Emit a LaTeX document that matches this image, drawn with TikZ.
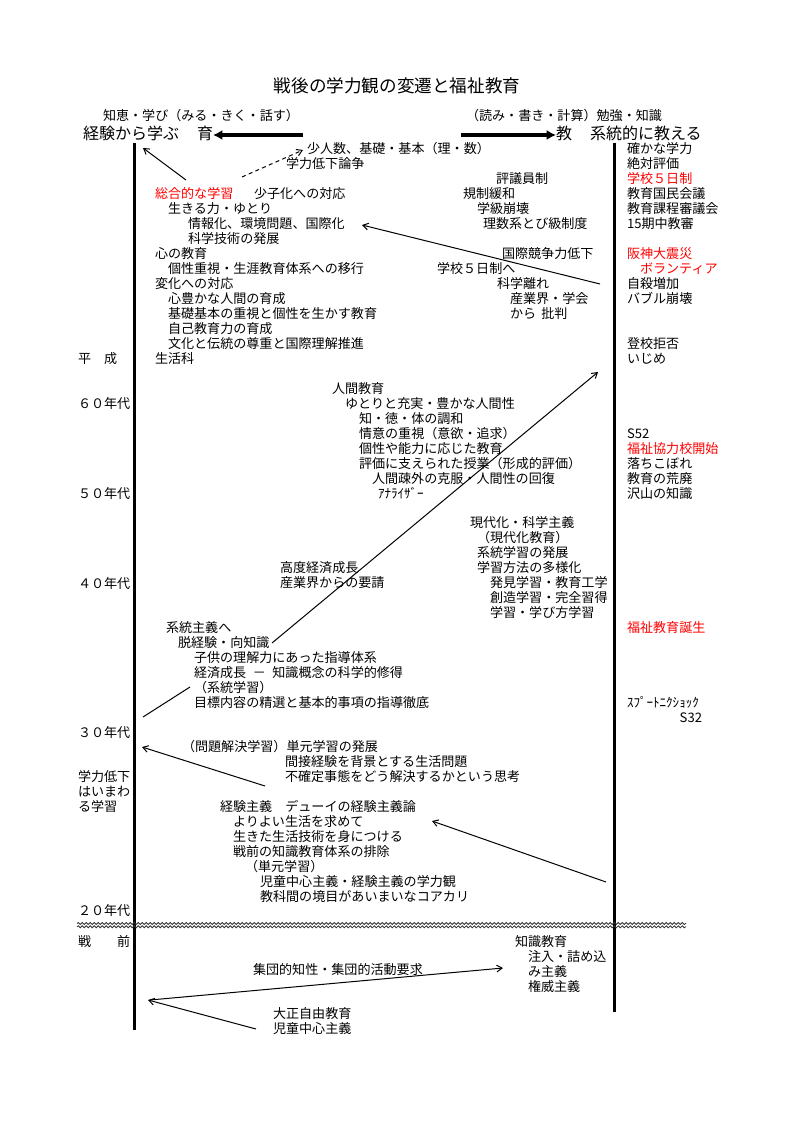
\documentclass[tikz,border=0pt]{standalone}
\usepackage{fontspec}
\setmainfont{Noto Sans CJK JP}
\usetikzlibrary{arrows.meta,decorations.pathmorphing}
\begin{document}
\begin{tikzpicture}[x=0.75pt,y=-0.75pt,
  tx/.style={anchor=west, inner sep=0pt, outer sep=0pt, font=\fontsize{9.8}{11.5}\selectfont, text height=8.6pt, text depth=1.2pt},
  txr/.style={tx, text=red},
  txe/.style={tx, anchor=east},
  big/.style={anchor=west, inner sep=0pt, outer sep=0pt, font=\fontsize{12}{14}\selectfont, text height=10.5pt, text depth=1.4pt},
  ttl/.style={inner sep=0pt, font=\fontsize{13.2}{15}\selectfont},
  vline/.style={line width=2.25pt},
  arr/.style={line width=0.75pt, -{Straight Barb[length=4pt,width=5pt]}},
  darr/.style={arr, dashed, dash pattern=on 3pt off 2.5pt},
  hdarr/.style={line width=3pt, -{Latex[length=7pt,width=7.5pt]}},
  wave/.style={line width=0.6pt, black!80, decorate, decoration={snake, segment length=3pt, amplitude=0.75pt}}
]
\useasboundingbox (0,0) rectangle (794,1123);

% title and header
\node[ttl] (title) at (397,86) {戦後の学力観の変遷と福祉教育};
\node[tx] (h1) at (103,116) {知恵・学び（みる・きく・話す）};
\node[tx] (h2) at (466,116) {（読み・書き・計算）勉強・知識};
\node[big] (h3) at (83,133) {経験から学ぶ};
\node[big] (h4) at (197,133) {育};
\node[big] (h5) at (556,133) {教};
\node[big] (h6) at (590,133) {系統的に教える};
\coordinate (la) at (303,135);
\coordinate (ra) at (461,135);
\draw[hdarr] (la) -- (h4.east |- la);
\draw[hdarr] (ra) -- (h5.west |- ra);

% vertical axes
\coordinate (L1) at (134,143);
\coordinate (L2) at (134,1030);
\coordinate (R1) at (614,143);
\coordinate (R2) at (614,1012);
\draw[vline] (L1) -- (L2);
\draw[vline] (R1) -- (R2);

% wavy separator
\coordinate (w1) at (77,923.5);
\coordinate (w2) at (686,923.5);
\coordinate (w3) at (77,926.8);
\coordinate (w4) at (686,926.8);
\draw[wave] (w1) -- (w2);
\draw[wave] (w3) -- (w4);

% left axis labels
\node[tx] (y0) at (78,359) {平　成};
\node[tx] (y1) at (78,404) {６０年代};
\node[tx] (y2) at (78,494) {５０年代};
\node[tx] (y3) at (78,584) {４０年代};
\node[tx] (y4) at (78,733) {３０年代};
\node[tx] (y5) at (78,777) {学力低下};
\node[tx] (y6) at (78,792) {はいまわ};
\node[tx] (y7) at (78,807) {る学習};
\node[tx] (y8) at (78,911) {２０年代};
\node[tx] (y9) at (78,942) {戦　　前};

% upper block (Heisei)
\node[tx] (a01) at (307,149) {少人数、基礎・基本（理・数）};
\node[tx] (a02) at (286,164) {学力低下論争};
\node[tx] (a03) at (496,179) {評議員制};
\node[txr] (a04) at (155,194) {総合的な学習};
\node[tx] (a05) at (254,194) {少子化への対応};
\node[tx] (a06) at (463,194) {規制緩和};
\node[tx] (a07) at (168,209) {生きる力・ゆとり};
\node[tx] (a08) at (477,209) {学級崩壊};
\node[tx] (a09) at (188,224) {情報化、環境問題、国際化};
\node[tx] (a10) at (483,224) {理数系とび級制度};
\node[tx] (a11) at (188,239) {科学技術の発展};
\node[tx] (a12) at (155,254) {心の教育};
\node[tx] (a13) at (502,254) {国際競争力低下};
\node[tx] (a14) at (168,269) {個性重視・生涯教育体系への移行};
\node[tx] (a15) at (437,269) {学校５日制へ};
\node[tx] (a16) at (155,284) {変化への対応};
\node[tx] (a17) at (497,284) {科学離れ};
\node[tx] (a18) at (168,299) {心豊かな人間の育成};
\node[tx] (a19) at (510,299) {産業界・学会};
\node[tx] (a20) at (168,314) {基礎基本の重視と個性を生かす教育};
\node[tx] (a21) at (510,314) {から\hspace{0.4em}批判};
\node[tx] (a22) at (168,329) {自己教育力の育成};
\node[tx] (a23) at (168,344) {文化と伝統の尊重と国際理解推進};
\node[tx] (a24) at (155,359) {生活科};

% right column
\node[tx] (b01) at (627,149) {確かな学力};
\node[tx] (b02) at (627,164) {絶対評価};
\node[txr] (b03) at (627,179) {学校５日制};
\node[tx] (b04) at (627,194) {教育国民会議};
\node[tx] (b05) at (627,209) {教育課程審議会};
\node[tx] (b06) at (627,224) {15期中教審};
\node[txr] (b07) at (627,254) {阪神大震災};
\node[txr] (b08) at (640,269) {ボランティア};
\node[tx] (b09) at (627,284) {自殺増加};
\node[tx] (b10) at (627,299) {バブル崩壊};
\node[tx] (b11) at (627,344) {登校拒否};
\node[tx] (b12) at (627,359) {いじめ};
\node[tx] (b13) at (627,434) {S52};
\node[txr] (b14) at (627,449) {福祉協力校開始};
\node[tx] (b15) at (627,464) {落ちこぼれ};
\node[tx] (b16) at (627,479) {教育の荒廃};
\node[tx] (b17) at (627,494) {沢山の知識};
\node[txr] (b18) at (627,628) {福祉教育誕生};
\node[tx] (b19) at (627,703) {ｽﾌﾟｰﾄﾆｸｼｮｯｸ};
\node[txe] (b20) at (702,718) {S32};

% 50s-60s block
\node[tx] (c01) at (332,389) {人間教育};
\node[tx] (c02) at (345,404) {ゆとりと充実・豊かな人間性};
\node[tx] (c03) at (359,419) {知・徳・体の調和};
\node[tx] (c04) at (359,434) {情意の重視（意欲・追求）};
\node[tx] (c05) at (359,449) {個性や能力に応じた教育};
\node[tx] (c06) at (359,464) {評価に支えられた授業（形成的評価）};
\node[tx] (c07) at (372,479) {人間疎外の克服・人間性の回復};
\node[tx] (c08) at (378,494) {ｱﾅﾗｲｻﾞｰ};

% 40s block
\node[tx] (d01) at (470,523) {現代化・科学主義};
\node[tx] (d02) at (477,538) {（現代化教育）};
\node[tx] (d03) at (477,553) {系統学習の発展};
\node[tx] (d04) at (477,568) {学習方法の多様化};
\node[tx] (d05) at (490,583) {発見学習・教育工学};
\node[tx] (d06) at (490,598) {創造学習・完全習得};
\node[tx] (d07) at (490,613) {学習・学び方学習};
\node[tx] (d08) at (280,568) {高度経済成長};
\node[tx] (d09) at (280,583) {産業界からの要請};

% 30s block
\node[tx] (e01) at (166,628) {系統主義へ};
\node[tx] (e02) at (178,643) {脱経験・向知識};
\node[tx] (e03) at (194,658) {子供の理解力にあった指導体系};
\node[tx] (e04) at (194,673) {経済成長\hspace{0.5em}－\hspace{0.5em}知識概念の科学的修得};
\node[tx] (e05) at (194,688) {（系統学習）};
\node[tx] (e06) at (194,703) {目標内容の精選と基本的事項の指導徹底};

% 20s block
\node[tx] (f01) at (182,747) {（問題解決学習）単元学習の発展};
\node[tx] (f02) at (285,762) {間接経験を背景とする生活問題};
\node[tx] (f03) at (285,777) {不確定事態をどう解決するかという思考};
\node[tx] (f04) at (220,807) {経験主義　デューイの経験主義論};
\node[tx] (f05) at (233,822) {よりよい生活を求めて};
\node[tx] (f06) at (233,837) {生きた生活技術を身につける};
\node[tx] (f07) at (233,852) {戦前の知識教育体系の排除};
\node[tx] (f08) at (245,867) {（単元学習）};
\node[tx] (f09) at (260,882) {児童中心主義・経験主義の学力観};
\node[tx] (f10) at (260,897) {教科間の境目があいまいなコアカリ};

% prewar block
\node[tx] (g01) at (515,942) {知識教育};
\node[tx] (g02) at (528,957) {注入・詰め込};
\node[tx] (g03) at (528,972) {み主義};
\node[tx] (g04) at (528,987) {権威主義};
\node[tx] (g05) at (253,970) {集団的知性・集団的活動要求};
\node[tx] (g06) at (273,1014) {大正自由教育};
\node[tx] (g07) at (273,1029) {児童中心主義};

% connector end points
\coordinate (p1s) at (186,180);  \coordinate (p1e) at (143,148);
\coordinate (p2s) at (242,177);  \coordinate (p2e) at (303,150);
\coordinate (p3s) at (600,284);  \coordinate (p3e) at (362,225);
\coordinate (p4s) at (272,643);  \coordinate (p4e) at (598,372);
\coordinate (p5s) at (143,717);  \coordinate (p5e) at (190,687);
\coordinate (p6s) at (265,786);  \coordinate (p6e) at (142,747);
\coordinate (p7s) at (606,882);  \coordinate (p7e) at (432,821);
\coordinate (p8s) at (256,1029); \coordinate (p8e) at (148,1000);
\coordinate (p9s) at (150,1000); \coordinate (p9e) at (503,968);

\draw[arr] (p1s) -- (p1e);
\draw[darr] (p2s) -- (p2e);
\draw[arr] (p3s) -- (p3e);
\draw[arr] (p4s) -- (p4e);
\draw[line width=0.75pt] (p5s) -- (p5e);
\draw[arr] (p6s) -- (p6e);
\draw[arr] (p7s) -- (p7e);
\draw[arr] (p8s) -- (p8e);
\draw[arr] (p9s) -- (p9e);
\end{tikzpicture}
\end{document}
